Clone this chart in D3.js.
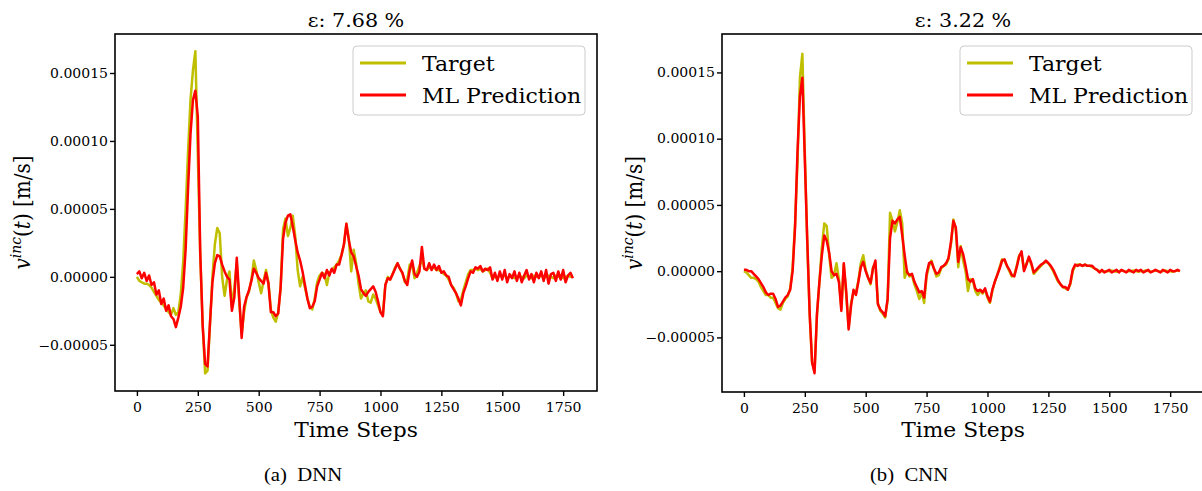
<!DOCTYPE html>
<html>
<head>
<meta charset="utf-8">
<script src="https://cdn.jsdelivr.net/npm/d3@7"></script>
<style>
  body { margin: 0; background: #ffffff; }
  svg { display: block; }
</style>
</head>
<body>
<svg id="fig" width="1202" height="491"></svg>
<script>
// Time axis: one sample every 10 steps
const steps = d3.range(0, 1800, 10);

// Velocity signals, in units of 1e-5 m/s
const dnnTarget = [
  0.0,-0.3,-0.4,-0.5,-0.5,-0.6,-0.8,-1.1,-1.4,-1.7,
  -1.9,-2.1,-2.4,-2.6,-2.8,-2.3,-2.8,-2.6,-1.3,1.1,
  4.9,9.2,13.0,15.2,16.6,9.0,1.6,-3.5,-7.1,-6.9,
  -3.5,0.0,2.4,3.6,3.2,0.0,-1.4,-0.2,0.4,-2.2,
  -0.8,1.0,-1.8,-4.2,-2.6,-1.5,-1.1,-0.2,1.2,0.5,
  -0.4,-1.2,-0.3,0.5,-0.4,-2.4,-3.0,-3.3,-2.6,-0.8,
  3.5,4.3,3.0,3.6,4.5,3.0,0.5,-0.7,0.0,-0.8,
  -1.6,-2.2,-2.4,-1.6,-0.4,0.1,0.3,0.2,-0.6,0.3,
  0.5,0.7,0.9,1.2,1.6,2.4,3.9,2.8,0.4,2.0,
  1.0,-0.5,-1.6,-1.2,-1.0,-1.8,-1.9,-1.3,-1.6,-2.1,
  -2.6,-2.7,-0.6,0.0,-0.2,0.2,0.7,1.0,0.6,0.3,
  -0.4,-0.2,0.9,0.8,-0.1,0.3,0.8,1.3,0.6,0.5,
  0.7,0.6,0.7,0.5,0.5,0.4,0.2,0.1,-0.2,-0.6,
  -0.8,-1.2,-1.8,-1.7,-1.0,-0.4,0.2,0.5,0.5,0.6,
  0.5,0.6,0.4,0.5,0.6,0.3,-0.1,0.0,-0.1,0.1,
  0.0,0.1,-0.1,0.0,0.1,-0.1,0.0,0.1,0.0,-0.1,
  0.1,0.0,-0.1,0.1,0.0,0.0,0.1,-0.1,0.0,0.1,
  0.0,-0.1,0.1,0.0,0.1,-0.1,0.0,0.1,0.0,0.0
];
const dnnPred = [
  0.2,0.4,-0.1,0.3,-0.3,0.1,-0.6,-0.4,-1.3,-1.0,
  -2.0,-1.6,-2.5,-2.1,-2.9,-3.1,-3.7,-3.0,-2.2,-0.8,
  2.0,6.5,10.5,13.0,13.7,11.8,1.8,-3.6,-6.4,-6.6,
  -3.4,-0.4,1.0,1.6,1.5,0.9,0.4,0.0,-0.2,-2.5,
  -1.5,1.4,-1.5,-4.5,-2.2,-1.5,-1.0,-0.3,0.6,0.3,
  -0.1,-0.3,-0.5,0.3,-0.5,-2.6,-2.6,-2.9,-2.7,-0.8,
  2.8,4.0,4.5,4.6,3.7,2.7,1.8,1.2,0.4,-0.6,
  -1.6,-2.3,-2.2,-1.8,-0.7,-0.2,0.3,-0.1,0.5,0.1,
  0.6,0.3,0.9,0.9,1.6,2.4,3.9,2.7,1.8,1.5,
  0.8,0.1,-0.9,-1.2,-1.4,-1.1,-0.9,-0.7,-1.1,-1.8,
  -2.6,-2.9,-0.6,-0.1,-0.2,0.2,0.6,1.0,0.6,0.3,
  -0.3,-0.6,0.5,1.2,0.2,0.0,0.4,2.2,0.6,0.5,
  1.0,0.5,0.9,0.5,0.8,0.3,0.4,0.1,0.0,-0.6,
  -0.9,-1.2,-1.6,-2.1,-1.2,-0.7,-0.1,0.4,0.3,0.7,
  0.6,0.8,0.4,0.6,0.5,0.7,-0.2,0.3,-0.3,0.4,
  -0.2,0.5,-0.4,0.2,-0.1,0.4,-0.3,0.3,-0.4,0.1,
  0.5,-0.2,0.2,-0.4,0.3,-0.1,0.4,-0.3,0.5,-0.5,
  0.2,0.3,-0.3,0.4,-0.2,0.5,-0.4,0.1,0.3,-0.1
];
const cnnTarget = [
  0.0,-0.1,-0.3,-0.5,-0.5,-0.6,-0.8,-1.2,-1.5,-1.8,
  -1.8,-2.0,-2.0,-2.4,-2.8,-2.9,-2.4,-2.1,-1.9,-1.3,
  0.3,3.6,8.2,14.6,16.4,9.0,2.2,-3.3,-6.9,-7.5,
  -3.3,-0.8,1.8,3.6,3.4,1.2,-0.5,-0.3,0.6,-0.6,
  -2.8,0.5,-1.8,-4.3,-2.4,-1.6,-1.6,-0.7,0.6,1.2,
  0.1,-0.5,-1.0,0.3,0.6,-2.4,-3.0,-3.2,-3.5,-2.2,
  4.4,3.8,3.0,3.7,4.6,3.6,-0.5,0.0,-0.4,-0.3,
  -1.0,-1.5,-2.1,-1.6,-2.4,-0.4,0.4,0.8,0.2,-0.4,
  -0.3,0.2,0.4,0.5,0.9,2.0,3.9,3.1,0.3,1.9,
  0.8,0.0,-1.5,-0.6,-0.7,-1.5,-1.8,-1.5,-1.7,-1.4,
  -2.0,-2.4,-1.5,-0.8,-0.3,0.3,0.9,0.8,0.4,0.0,
  -0.4,-0.3,0.4,1.2,1.3,0.1,0.6,1.0,0.5,-0.2,
  0.0,0.2,0.4,0.6,0.7,0.6,0.3,0.0,-0.4,-0.8,
  -1.0,-1.2,-1.3,-1.4,-1.0,0.0,0.4,0.5,0.5,0.4,
  0.5,0.4,0.4,0.3,0.2,0.1,0.0,0.0,0.0,0.0,
  0.0,0.05,0.0,-0.05,0.0,0.05,0.0,-0.05,0.0,0.0,
  0.05,0.0,-0.05,0.0,0.0,0.05,0.0,-0.05,0.0,0.05,
  0.0,-0.05,0.0,0.05,0.0,0.0,-0.05,0.0,0.05,0.0
];
const cnnPred = [
  0.1,0.1,0.0,0.0,-0.2,-0.4,-0.6,-0.9,-1.2,-1.6,
  -1.8,-1.7,-1.7,-2.1,-2.7,-2.6,-2.3,-2.0,-1.8,-1.4,
  0.0,3.3,9.0,13.2,14.6,8.5,2.4,-3.2,-6.9,-7.7,
  -3.2,-0.8,1.2,2.7,2.3,1.4,0.0,-0.3,-0.2,-0.8,
  -3.0,0.6,-1.5,-4.4,-2.6,-1.4,-1.8,-0.8,0.3,0.7,
  0.0,-0.5,-0.9,0.2,0.8,-2.5,-2.9,-3.1,-3.4,-2.1,
  2.5,3.8,3.6,3.9,4.1,2.7,1.2,-0.1,-0.3,-0.2,
  -0.8,-1.2,-1.6,-1.5,-2.0,-0.2,0.6,0.7,0.2,-0.2,
  -0.1,0.3,0.4,0.6,1.0,2.2,3.8,3.3,0.7,1.8,
  1.3,0.4,-0.6,-0.8,-0.6,-1.3,-1.5,-1.4,-1.6,-1.3,
  -1.9,-2.3,-1.4,-0.8,-0.3,0.2,0.8,0.9,0.4,0.1,
  -0.3,-0.4,0.3,1.1,1.5,0.0,0.5,1.1,0.6,-0.1,
  0.1,0.3,0.5,0.6,0.8,0.6,0.4,0.1,-0.3,-0.7,
  -1.0,-1.2,-1.2,-1.4,-0.9,0.1,0.5,0.4,0.5,0.4,
  0.5,0.4,0.4,0.4,0.2,0.1,-0.1,0.1,-0.1,0.0,
  0.1,-0.1,0.0,0.1,-0.1,0.1,0.0,-0.1,0.1,0.0,
  -0.1,0.1,0.0,0.1,-0.1,0.0,0.1,-0.1,0.0,0.1,
  0.0,-0.1,0.1,0.0,-0.1,0.1,0.0,0.0,0.1,0.0
];

// Tick values
const xTicks = [0, 250, 500, 750, 1000, 1250, 1500, 1750];
const yTicks = [-0.00005, 0, 0.00005, 0.0001, 0.00015];

// Panel titles, captions and legend entries
const titles = ["\u03b5: 7.68 %", "\u03b5: 3.22 %"];
const captions = ["(a)\u2002DNN", "(b)\u2002CNN"];
const seriesNames = ["Target", "ML Prediction"];
const seriesColors = ["#bfbf00", "#ff0000"];

const UNIT = 1e-5;
const SERIF = "'DejaVu Serif', serif";
const svg = d3.select("#fig");

// Text squeezed/stretched horizontally by sx
function label(g, x, y, str, size, sx, anchor, family) {
  return g.append("text")
    .attr("transform", `translate(${x},${y}) scale(${sx},1)`)
    .attr("font-family", family || SERIF)
    .attr("font-size", size)
    .attr("text-anchor", anchor || "middle")
    .attr("fill", "#000")
    .text(str);
}

const panels = [
  { target: dnnTarget, pred: dnnPred, title: titles[0], caption: captions[0],
    box: { l: 115, r: 597, t: 34, b: 391 }, yDomain: [-8.4e-5, 17.87e-5],
    ylabelX: 30, captionX: 303 },
  { target: cnnTarget, pred: cnnPred, title: titles[1], caption: captions[1],
    box: { l: 722, r: 1204, t: 34, b: 392 }, yDomain: [-9.12e-5, 17.9e-5],
    ylabelX: 642, captionX: 909 }
];

panels.forEach((p, pi) => {
  const { l, r, t, b } = p.box;
  const x = d3.scaleLinear().domain([-89.95, 1888.95]).range([l, r]);
  const y = d3.scaleLinear().domain(p.yDomain).range([b, t]);
  const g = svg.append("g");

  // clip region for the data lines
  g.append("clipPath").attr("id", "clip" + pi)
    .append("rect").attr("x", l).attr("y", t).attr("width", r - l).attr("height", b - t);

  const line = d3.line()
    .x((d, i) => x(steps[i]))
    .y(d => y(d * UNIT));

  const lines = g.append("g").attr("clip-path", `url(#clip${pi})`);
  [p.target, p.pred].forEach((series, si) => {
    lines.append("path")
      .datum(series)
      .attr("d", line)
      .attr("fill", "none")
      .attr("stroke", seriesColors[si])
      .attr("stroke-width", 2.5)
      .attr("stroke-linejoin", "round")
      .attr("stroke-linecap", "butt");
  });

  // x axis
  const xAxis = g.append("g")
    .attr("transform", `translate(0,${b})`)
    .call(d3.axisBottom(x).tickValues(xTicks).tickSize(5).tickFormat(d3.format("d")));
  xAxis.select(".domain").remove();
  xAxis.selectAll(".tick line").attr("stroke", "#000").attr("stroke-width", 1.4);
  xAxis.selectAll(".tick text")
    .attr("font-family", SERIF).attr("font-size", 12).attr("fill", "#000")
    .attr("y", 0).attr("dy", null)
    .attr("transform", "translate(0,20.5) scale(1.17,1)");

  // y axis
  const yAxis = g.append("g")
    .attr("transform", `translate(${l},0)`)
    .call(d3.axisLeft(y).tickValues(yTicks).tickSize(5).tickFormat(d3.format(".5f")));
  yAxis.select(".domain").remove();
  yAxis.selectAll(".tick line").attr("stroke", "#000").attr("stroke-width", 1.4);
  yAxis.selectAll(".tick text")
    .attr("font-family", SERIF).attr("font-size", 12).attr("fill", "#000")
    .attr("x", 0).attr("y", 0).attr("dy", "0.36em")
    .attr("transform", "translate(-7,0) scale(1.17,1)");

  // axes frame
  g.append("rect")
    .attr("x", l).attr("y", t).attr("width", r - l).attr("height", b - t)
    .attr("fill", "none").attr("stroke", "#000").attr("stroke-width", 1.6);

  // title
  label(g, (l + r) / 2, 26.5, p.title, 18, 1.15);

  // x label
  label(g, (l + r) / 2, 436.5, "Time Steps", 20, 1.09);

  // y label: v^{inc}(t) [m/s]
  const yl = g.append("text")
    .attr("transform", `translate(${p.ylabelX},${(t + b) / 2}) rotate(-90) scale(1,1.1)`)
    .attr("font-family", SERIF).attr("font-size", 20)
    .attr("text-anchor", "middle").attr("fill", "#000");
  yl.append("tspan").attr("font-style", "italic").text("v");
  yl.append("tspan").attr("font-style", "italic").attr("font-size", 14).attr("dy", -8).text("inc");
  yl.append("tspan").attr("dy", 8).text("(");
  yl.append("tspan").attr("font-style", "italic").text("t");
  yl.append("tspan").text(") [m/s]");

  // legend
  const lw = 232, lh = 69;
  const lx = r - 12 - lw, ly = t + 12;
  const lg = g.append("g").attr("transform", `translate(${lx},${ly})`);
  lg.append("rect").attr("width", lw).attr("height", lh).attr("rx", 4)
    .attr("fill", "#fff").attr("fill-opacity", 0.8)
    .attr("stroke", "#cccccc").attr("stroke-width", 1);
  seriesNames.forEach((name, i) => {
    const rowY = 17 + i * 32;
    lg.append("line")
      .attr("x1", 7).attr("x2", 53).attr("y1", rowY).attr("y2", rowY)
      .attr("stroke", seriesColors[i]).attr("stroke-width", 3);
    label(lg, 69, rowY + 7.5, name, 20, 1.1, "start");
  });

  // sub-figure caption
  label(svg, p.captionX, 481, p.caption, 18.5, 1.12, "middle", "'Liberation Serif', 'Times New Roman', serif");
});
</script>
</body>
</html>
